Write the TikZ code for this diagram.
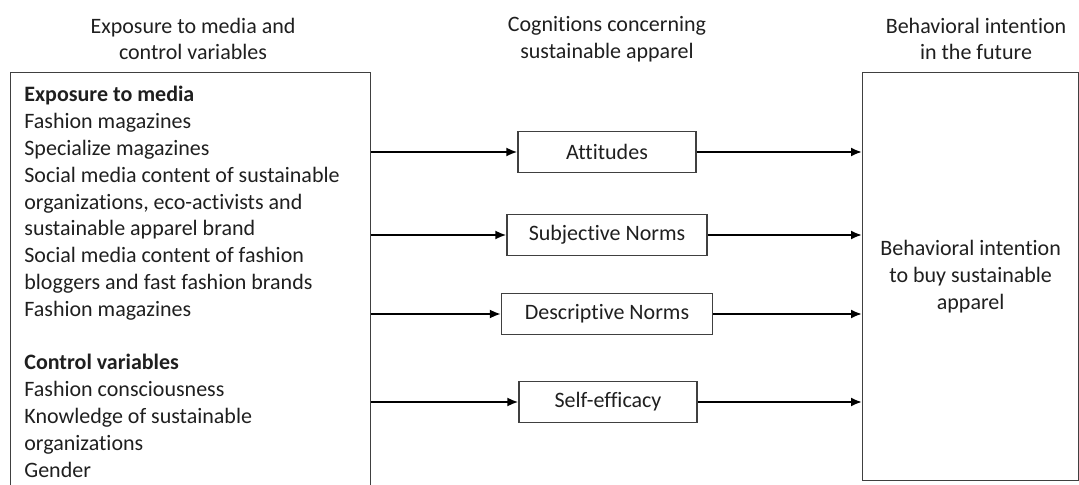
\documentclass[tikz,border=0pt]{standalone}
\usepackage{fontspec}
\setmainfont{Carlito}[Ligatures=NoCommon]
\usetikzlibrary{positioning,arrows.meta}

\tikzset{
	label/.style={font=\fontsize{11}{13.4}\selectfont, text=black!88},
	frame/.style={draw=black!75, line width=0.65pt, inner sep=0pt},
	cogbox/.style={frame, label, minimum height=20.5pt},
	link/.style={-{Latex[length=5.5pt,width=4.5pt]}, line width=1pt}
}

\begin{document}
\begin{tikzpicture}[x=0.5pt, y=-0.5pt]
		%%%%% START %%%%%
		\useasboundingbox (0,0) rectangle (1079,485);
		
		% headings
		\node[label, align=center] (headexpo) at (193,39) {Exposure to media and\\control variables};
		\node[label, align=center] (headcog) at (607,39) {Cognitions concerning\\sustainable apparel};
		\node[label, align=center] (headint) at (976,39) {Behavioral intention\\in the future};
		
		% left box
		\node[frame, minimum width=180pt, minimum height=212pt, anchor=north west] (expo) at (10,72) {};
		\node[label, align=left, anchor=north west, inner sep=0pt] (expotext) at (24,86)
		{\textbf{Exposure to media}\\Fashion magazines\\Specialize magazines\\
		 Social media content of sustainable\\organizations, eco-activists and\\
		 sustainable apparel brand\\Social media content of fashion\\
		 bloggers and fast fashion brands\\Fashion magazines\\[13.4pt]
		 \textbf{Control variables}\\Fashion consciousness\\Knowledge of sustainable\\
		 organizations\\Gender};
		
		% right box
		\node[frame, label, align=center, minimum width=108pt, minimum height=204pt, anchor=north west] (intent) at (862,72)
		{Behavioral intention\\to buy sustainable\\apparel};
		
		% cognitions
		\node[cogbox, minimum width=89pt] (att) at (607,152) {Attitudes};
		\node[cogbox, minimum width=100pt] (subj) at (607,235) {Subjective Norms};
		\node[cogbox, minimum width=105.5pt] (desc) at (607,314) {Descriptive Norms};
		\node[cogbox, minimum width=89pt] (self) at (608,402) {Self-efficacy};
		
		\foreach \c in {att,subj,desc,self}{
			\draw[link] (expo.east |- \c) -- (\c);
			\draw[link] (\c) -- (intent.west |- \c);
		}
		%%%%% END %%%%%
\end{tikzpicture}
\end{document}
